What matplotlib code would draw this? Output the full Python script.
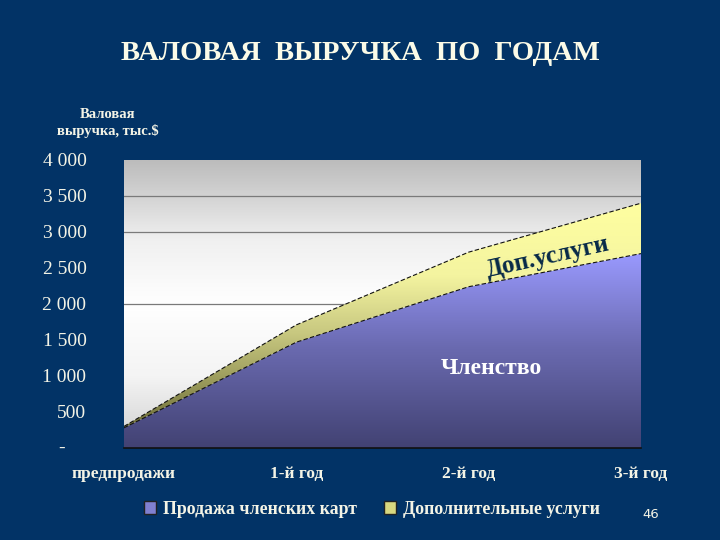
import numpy as np
import matplotlib
matplotlib.use("Agg")
import matplotlib.pyplot as plt
from matplotlib.colors import LinearSegmentedColormap
from matplotlib.patches import PathPatch, Patch

plt.rcParams['font.family'] = ['Liberation Serif', 'DejaVu Serif']

# ---- data ----
categories = ["предпродажи", "1-й год", "2-й год", "3-й год"]
membership = [280, 1470, 2240, 2700]      # Продажа членских карт
services = [20, 240, 480, 700]            # Дополнительные услуги
yticks = [0, 500, 1000, 1500, 2000, 2500, 3000, 3500, 4000]
ytick_labels = ["", "500", "1 000", "1 500", "2 000", "2 500", "3 000", "3 500", "4 000"]
grid_levels = [2000, 3000, 3500]
series_names = ["Продажа членских карт", "Дополнительные услуги"]

BG = "#023366"
TXT = "#f4f4e6"

fig = plt.figure(figsize=(7.2, 5.4), dpi=100, facecolor=BG)
ax = fig.add_axes([124/720, 92/540, 517/720, 288/540])
ax.set_facecolor("white")

x = np.arange(len(categories))
m = np.array(membership, dtype=float)
total = m + np.array(services, dtype=float)
ymax = 4000

# plot background gradient
bg_cmap = LinearSegmentedColormap.from_list("bg", [(0, "#cfcfcf"), (0.25, "#f4f4f4"), (0.5, "#ffffff"), (0.72, "#f0f0f0"), (1, "#bcbcbc")])
ax.imshow(np.linspace(0, 1, 256).reshape(-1, 1), extent=[0, 3, 0, ymax], aspect="auto",
          origin="lower", cmap=bg_cmap, zorder=0)

for yv in grid_levels:
    ax.axhline(yv, color="#7a7a7a", lw=0.9, zorder=0.5)

def grad_area(lower, upper, cmap, z):
    coll = ax.fill_between(x, lower, upper, facecolor="none", edgecolor="none", zorder=z)
    path = coll.get_paths()[0]
    patch = PathPatch(path, transform=ax.transData, facecolor="none", edgecolor="none")
    ax.add_patch(patch)
    im = ax.imshow(np.linspace(0, 1, 256).reshape(-1, 1), extent=[0, 3, 0, ymax], aspect="auto",
                   origin="lower", cmap=cmap, zorder=z)
    im.set_clip_path(patch)

blue_cmap = LinearSegmentedColormap.from_list("b", [(0, "#424273"), (0.35, "#6a6ab0"), (0.68, "#9a9aff"), (1, "#9a9aff")])
yel_cmap = LinearSegmentedColormap.from_list("y", [(0, "#55552a"), (0.1, "#77773f"), (0.4, "#c8c880"), (0.6, "#f4f4a0"), (0.85, "#ffffa0"), (1, "#ffffa0")])
grad_area(0, m, blue_cmap, 1)
grad_area(m, total, yel_cmap, 1)

ax.plot(x, m, color="#111111", lw=0.8, ls=(0, (4, 2)), zorder=3)
ax.plot(x, total, color="#111111", lw=0.8, ls=(0, (4, 2)), zorder=3)

ax.set_xlim(0, 3)
ax.set_ylim(0, ymax)

for s in ["top", "right", "left"]:
    ax.spines[s].set_visible(False)
ax.spines["bottom"].set_color("#111111")
ax.spines["bottom"].set_linewidth(1.2)

ax.set_yticks(yticks)
ax.set_yticklabels(ytick_labels, fontsize=14, color=TXT)
ax.tick_params(axis="y", length=0, pad=27)
ax.text(-0.12, 0, "-", transform=ax.get_yaxis_transform(), fontsize=14, color=TXT,
        ha="center", va="center")
ax.set_xticks(x)
ax.set_xticklabels(categories, fontsize=12.5, fontweight="bold", color=TXT)
ax.tick_params(axis="x", length=0, pad=13)

# annotations
ax.text(2.46, 2650, "Доп.услуги", rotation=12.5, fontsize=18, fontweight="bold",
        color="#082a48", ha="center", va="center", rotation_mode="anchor", zorder=4)
ax.text(2.13, 1110, "Членство", fontsize=17, fontweight="bold", color="white",
        ha="center", va="center", zorder=4)

fig.text(0.5, 1 - 54/540, "ВАЛОВАЯ  ВЫРУЧКА  ПО  ГОДАМ", fontsize=20.5, fontweight="bold",
         color="#fbfbe8", ha="center", va="center")
fig.text(108/720, 1 - 123/540, "Валовая\nвыручка, тыс.$", fontsize=10.5, fontweight="bold",
         color=TXT, ha="center", va="center", linespacing=1.3)

handles = [Patch(facecolor="#8080d0", edgecolor="#222222"),
           Patch(facecolor="#d8d880", edgecolor="#222222")]
fig.legend(handles, series_names, loc="center", bbox_to_anchor=(372/720, 1 - 509/540),
           ncol=2, frameon=False, handlelength=0.7, handleheight=0.7, handletextpad=0.4,
           columnspacing=1.5, prop={"family": "Liberation Serif", "weight": "bold", "size": 12.8},
           labelcolor=TXT)

fig.text(651/720, 1 - 515/540, "46", fontsize=9.5, color=TXT, family="DejaVu Sans",
         ha="center", va="center")

fig.savefig("out.png", dpi=100, facecolor=BG)
